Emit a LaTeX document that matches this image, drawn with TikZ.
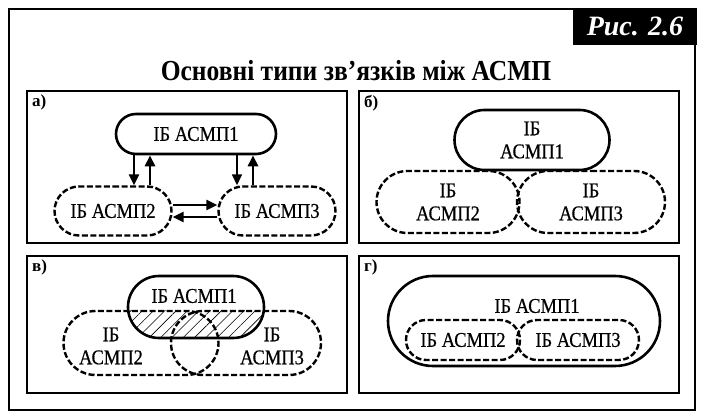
\documentclass[tikz,border=0pt]{standalone}
\usepackage{fontspec}
\setmainfont{Liberation Serif}
\newfontfamily\condfont{Liberation Serif}[FakeStretch=0.88]
\newfontfamily\ibfamily{Liberation Serif}[FakeStretch=0.88, FakeBold=0.6]
\usetikzlibrary{arrows.meta, shapes.misc, patterns.meta, positioning}

\newcommand\ibfont{\ibfamily\fontsize{21}{23}\selectfont}

\begin{document}
\begin{tikzpicture}[x=1pt, y=-1pt,
    frame/.style={line width=2.6pt},
    panel/.style={line width=1.3pt},
    ib/.style={draw, rounded rectangle, line width=2.6pt, align=center,
               font=\ibfont, inner sep=0pt},
    ibd/.style={ib, line width=2.4pt, dash pattern=on 6pt off 2.5pt},
    txt/.style={align=center, font=\ibfont, inner sep=0pt},
    arr/.style={-{Triangle[length=11pt, width=10pt]}, line width=2.6pt},
    lbl/.style={anchor=north west, inner sep=0pt,
                font=\bfseries\fontsize{17}{17}\selectfont},
  ]
  \useasboundingbox (0,0) rectangle (705,419);

  % frame, figure tag and title
  \draw[frame] (9,9) rectangle (695,410);
  \node[fill=black, text=white, minimum width=124, minimum height=37,
        font=\bfseries\itshape\fontsize{28}{28}\selectfont]
    (tag) at (635,26.5) {Рис. 2.6};
  \node[font=\condfont\bfseries\fontsize{29}{29}\selectfont] (title) at (356,71)
    {Основні типи зв’язків між АСМП};

  % a) --- exchange of data
  \draw[panel] (27,91) rectangle (347,243);
  \node[lbl] (la) at (32,95) {а)};
  \node[ib,  minimum width=160, minimum height=40] (a1) at (196,134) {ІБ АСМП1};
  \node[ibd, minimum width=117, minimum height=49] (a2) at (113,211) {ІБ АСМП2};
  \node[ibd, minimum width=117, minimum height=49] (a3) at (277,211) {ІБ АСМП3};
  \draw[arr] ([xshift=-62pt]a1.south) -- ([xshift=21pt]a2.north);
  \draw[arr] ([xshift=37pt]a2.north) -- ([xshift=-46pt]a1.south);
  \draw[arr, line width=1.5pt] ([xshift=41pt]a1.south) -- ([xshift=-40pt]a3.north);
  \draw[arr] ([xshift=-24pt]a3.north) -- ([xshift=57pt]a1.south);
  \draw[arr] ([yshift=6pt]a2.east) -- ([yshift=6pt]a3.west);
  \draw[arr] ([yshift=-6pt]a3.west) -- ([yshift=-6pt]a2.east);

  % b) --- touching
  \draw[panel] (359,91) rectangle (679,243);
  \node[lbl] (lb) at (364,95) {б)};
  \node[ib,  minimum width=155, minimum height=60] (b1) at (532,140) {ІБ\\АСМП1};
  \node[ibd, minimum width=143, minimum height=62] (b2) at (448,202) {ІБ\\АСМП2};
  \node[ibd, minimum width=148, minimum height=62] (b3) at (591,202) {ІБ\\АСМП3};

  % v) --- overlapping, common part hatched
  \draw[panel] (27,256) rectangle (347,393);
  \node[lbl] (lv) at (32,260) {в)};
  \begin{scope}
    \clip[rounded corners=31] (128,276) rectangle (264,338);
    \fill[pattern={Lines[angle=45, distance=8pt, line width=0.6pt]}]
      (100,311) rectangle (300,345);
  \end{scope}
  \node[ibd, minimum width=155, minimum height=64] (v2) at (141,343) {};
  \node[ibd, minimum width=150, minimum height=64] (v3) at (246,343) {};
  \node[ib,  minimum width=136, minimum height=62] (v1) at (196,307) {};
  \node[txt] (tv1) at (194,296) {ІБ АСМП1};
  \node[txt] (tv2) at (111,346) {ІБ\\АСМП2};
  \node[txt] (tv3) at (272,346) {ІБ\\АСМП3};

  % g) --- nested
  \draw[panel] (359,256) rectangle (679,393);
  \node[lbl] (lg) at (364,260) {г)};
  \node[ib,  minimum width=272, minimum height=90] (g1) at (524,321) {};
  \node[txt] (tg1) at (537,306) {ІБ АСМП1};
  \node[ibd, minimum width=114, minimum height=40] (g2) at (463,340) {ІБ АСМП2};
  \node[ibd, minimum width=122, minimum height=40] (g3) at (578,340) {ІБ АСМП3};
\end{tikzpicture}
\end{document}
